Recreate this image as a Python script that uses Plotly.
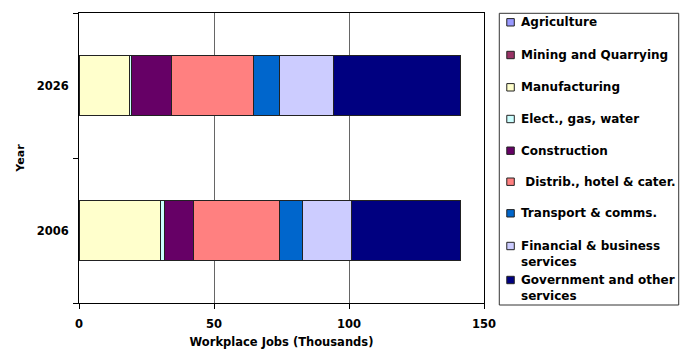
import plotly.graph_objects as go

# ---- data ----
years = ["2006", "2026"]
sectors = ["Agriculture", "Mining and Quarrying", "Manufacturing", "Elect., gas, water",
           "Construction", "\u00a0Distrib., hotel & cater.", "Transport & comms.",
           "Financial & business<br>services", "Government and other<br>services"]
agriculture = [0.2, 0.2]
mining = [0.1, 0.1]
manufacturing = [30.0, 18.4]
elect_gas_water = [1.5, 0.8]
construction = [10.7, 14.7]
distrib_hotel = [31.8, 30.6]
transport = [8.6, 9.5]
financial = [17.9, 19.9]
government = [40.5, 47.1]
values = [agriculture, mining, manufacturing, elect_gas_water, construction,
          distrib_hotel, transport, financial, government]
colors = ["#9999FF", "#993366", "#FFFFCC", "#CCFFFF", "#660066",
          "#FF8080", "#0066CC", "#CCCCFF", "#000080"]
x_ticks = [0, 50, 100, 150]

FONT = "DejaVu Sans"

fig = go.Figure()
for name, vals, col in zip(sectors, values, colors):
    fig.add_trace(go.Bar(
        y=years, x=vals, orientation="h", name=name.replace("<br>", " "),
        marker=dict(color=col, line=dict(color="#222222", width=1)),
        showlegend=False,
        hovertemplate="%{fullData.name}: %{x}<extra>%{y}</extra>",
    ))

L, R, T, B = 78.5, 483.7, 13, 303
W, H = 687, 349
pw, ph = R - L, B - T

def px_x(x):
    return (x - L) / pw

def px_y(y):
    return (B - y) / ph

# legend box drawn beside the plot (first-line centre of each entry)
row_y = [22.3, 55, 87.3, 119, 150.7, 181.7, 213.3, 246, 280]
LINE = 15.5
shapes = [dict(
    type="rect", xref="paper", yref="paper",
    x0=px_x(499), x1=px_x(678.5), y0=px_y(305), y1=px_y(13.3),
    line=dict(color="#333333", width=1), fillcolor="rgba(0,0,0,0)",
)]
annotations = []
for name, col, ry in zip(sectors, colors, row_y):
    shapes.append(dict(
        type="rect", xref="paper", yref="paper",
        x0=px_x(506.5), x1=px_x(514), y0=px_y(ry + 3.7), y1=px_y(ry - 3.7),
        line=dict(color="#222222", width=1), fillcolor=col,
    ))
    nlines = name.count("<br>") + 1
    annotations.append(dict(
        xref="paper", yref="paper", x=px_x(519), y=px_y(ry + (nlines - 1) * LINE / 2),
        xanchor="left", yanchor="middle", align="left", showarrow=False,
        text=name, font=dict(family=FONT, size=12, weight="bold", color="black"),
    ))

fig.update_layout(
    width=W, height=H,
    margin=dict(l=L, r=W - R, t=T, b=H - B, pad=0, autoexpand=False),
    paper_bgcolor="white", plot_bgcolor="white",
    font=dict(family=FONT, size=11.5, color="black", weight="bold"),
    barmode="stack", bargap=0.59,
    showlegend=False,
    xaxis=dict(
        range=[0, 150], tickvals=x_ticks, ticktext=[str(v) for v in x_ticks],
        showgrid=True, gridcolor="#666666", gridwidth=1,
        showline=True, linecolor="black", linewidth=1, mirror=True,
        ticks="outside", ticklen=5, tickcolor="black", ticklabelstandoff=5,
        zeroline=False, automargin=False,
        title=dict(text="Workplace Jobs (Thousands)", standoff=14,
                   font=dict(family=FONT, size=11.5, weight="bold")),
    ),
    yaxis=dict(
        type="category", categoryorder="array", categoryarray=years,
        showline=True, linecolor="black", linewidth=1, mirror=True,
        ticks="outside", ticklen=5, tickcolor="black", tickson="boundaries",
        ticklabelstandoff=7,
        showgrid=False, zeroline=False, automargin=False,
        title=dict(text="Year", standoff=9,
                   font=dict(family=FONT, size=11, weight="bold")),
    ),
    shapes=shapes,
    annotations=annotations,
)

fig.write_html("out.html", config={"displayModeBar": False},
               post_script="document.body.style.margin='0';")
